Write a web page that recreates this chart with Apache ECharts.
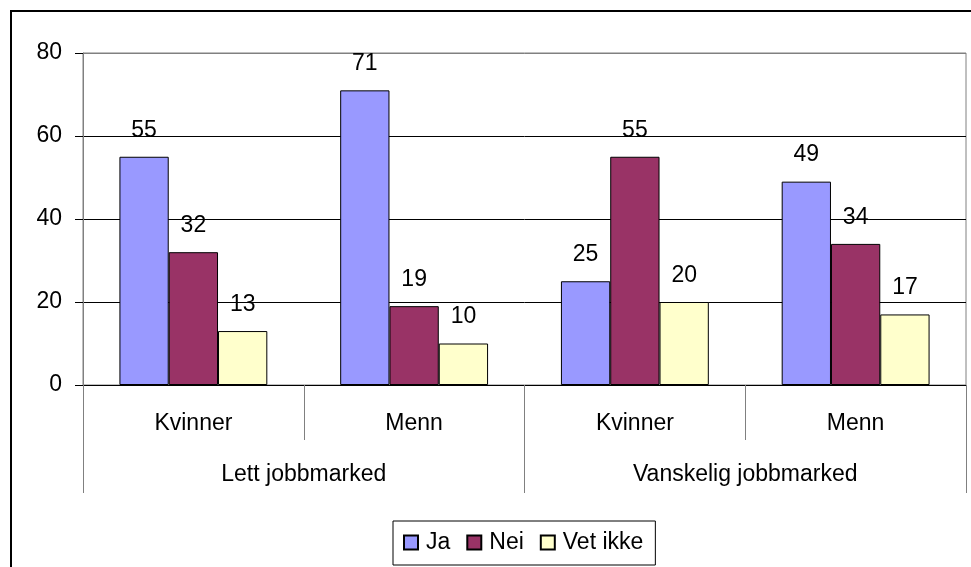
<!DOCTYPE html>
<html>
<head>
<meta charset="utf-8">
<script src="https://cdn.jsdelivr.net/npm/echarts@6/dist/echarts.min.js"></script>
<style>
  html, body { margin: 0; padding: 0; background: #fff; }
  #chart { width: 971px; height: 567px; }
</style>
</head>
<body>
<div id="chart"></div>
<script>
// categories
const subCategories = ['Kvinner', 'Menn', 'Kvinner', 'Menn'];
const groups = ['Lett jobbmarked', 'Vanskelig jobbmarked'];

// series values
const ja = [55, 71, 25, 49];
const nei = [32, 19, 55, 34];
const vetIkke = [13, 10, 20, 17];

// y ticks
const yMin = 0;
const yMax = 80;
const yStep = 20;

const font = 'Liberation Sans, Arial, sans-serif';
const fontSize = 23;

const chart = echarts.init(document.getElementById('chart'));

const barSeries = (name, data, color) => ({
  name: name,
  type: 'bar',
  data: data,
  barGap: '0%',
  barCategoryGap: '33%',
  itemStyle: { color: color, borderColor: '#000', borderWidth: 1 },
  label: {
    show: true,
    position: 'top',
    distance: 15,
    color: '#000',
    fontFamily: font,
    fontSize: fontSize
  }
});

chart.setOption({
  animation: false,
  backgroundColor: '#fff',
  textStyle: { fontFamily: font },
  graphic: [{
    type: 'rect',
    shape: { x: 11, y: 11, width: 1000, height: 1000 },
    style: { fill: 'none', stroke: '#000', lineWidth: 2 },
    silent: true
  }],
  grid: {
    left: 83, right: 5, top: 53, bottom: 182,
    show: true, borderColor: '#808080', borderWidth: 1
  },
  legend: {
    left: 393, top: 521,
    data: ['Ja', 'Nei', 'Vet ikke'],
    itemWidth: 14, itemHeight: 14, itemGap: 16,
    icon: 'rect',
    padding: [10, 12, 11, 10],
    borderColor: '#000', borderWidth: 1,
    textStyle: { fontFamily: font, fontSize: fontSize, color: '#000', padding: [0, 0, 0, 3] }
  },
  xAxis: [{
    type: 'category',
    data: subCategories,
    axisLine: { lineStyle: { color: '#000' } },
    axisTick: { show: true, length: 55, lineStyle: { color: '#808080' } },
    axisLabel: { margin: 27, color: '#000', fontFamily: font, fontSize: fontSize }
  }, {
    type: 'category',
    data: groups,
    position: 'bottom',
    axisLine: { show: false },
    axisTick: { show: true, length: 108, lineStyle: { color: '#808080' } },
    axisLabel: { margin: 78, color: '#000', fontFamily: font, fontSize: fontSize }
  }],
  yAxis: {
    type: 'value',
    min: yMin, max: yMax, interval: yStep,
    axisLine: { show: true, lineStyle: { color: '#808080' } },
    axisTick: { show: true, length: 8, lineStyle: { color: '#000' } },
    axisLabel: { margin: 21, color: '#000', fontFamily: font, fontSize: fontSize },
    splitLine: { show: true, lineStyle: { color: ['#000', '#000', '#000', '#000', '#808080'], width: 1 } }
  },
  series: [
    barSeries('Ja', ja, '#9999FF'),
    barSeries('Nei', nei, '#993366'),
    barSeries('Vet ikke', vetIkke, '#FFFFCC')
  ]
});
</script>
</body>
</html>
